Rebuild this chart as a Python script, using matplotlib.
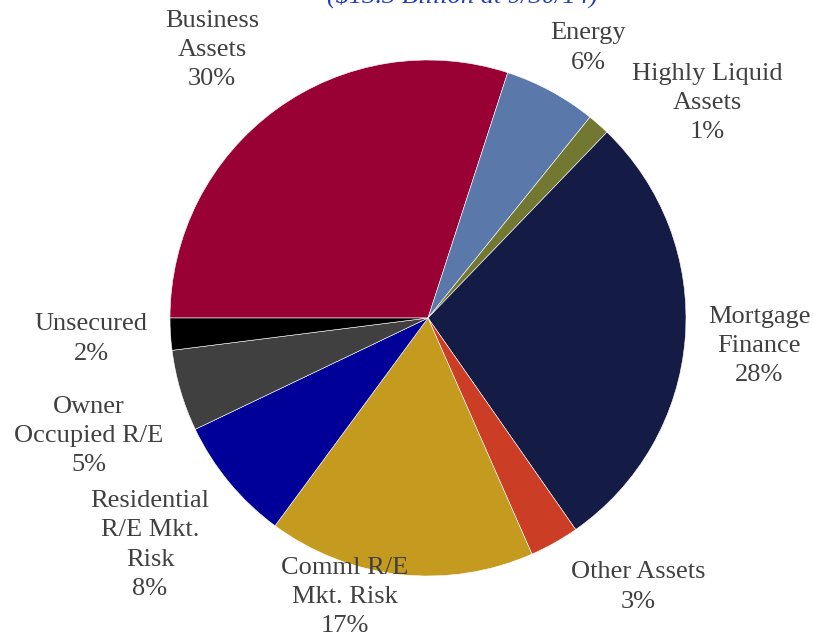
import matplotlib
matplotlib.use("Agg")
import matplotlib.pyplot as plt

categories = ["Business\nAssets", "Energy", "Highly Liquid\nAssets", "Mortgage\nFinance",
              "Other Assets", "Comml R/E\nMkt. Risk", "Residential\nR/E Mkt.\nRisk",
              "Owner\nOccupied R/E", "Unsecured"]
values = [30.0, 5.8, 1.4, 28.1, 3.1, 16.7, 7.8, 5.1, 2.0]
pct_labels = ["30%", "6%", "1%", "28%", "3%", "17%", "8%", "5%", "2%"]
colors = ["#990033", "#5B78AB", "#727831", "#141B45", "#CC3D25",
          "#C49A1F", "#000099", "#404040", "#000000"]

W, H = 813, 636
CX, CY, R = 428, 318, 258
fig = plt.figure(figsize=(W / 100, H / 100), dpi=100)
ax = fig.add_axes([(CX - R) / W, (H - CY - R) / H, 2 * R / W, 2 * R / H])
ax.pie(values, colors=colors, startangle=180, counterclock=False, radius=1.0,
       wedgeprops=dict(edgecolor="white", linewidth=0.4))
ax.set_xlim(-1, 1)
ax.set_ylim(-1, 1)
ax.set_aspect("equal")
ax.axis("off")

# label centres in pixel coordinates (layout only)
label_pos = [(212, 50), (588, 48), (707, 103), (759, 346), (638, 587),
             (345, 597), (150, 545), (89, 436), (91, 339)]
for cat, pct, (px, py) in zip(categories, pct_labels, label_pos):
    ax.text((px - CX) / R, (CY - py) / R, cat + "\n" + pct, ha="center", va="center",
            fontsize=19, family="Liberation Serif", color="#404040",
            linespacing=1.44, clip_on=False)

fig.text(462 / W, 1 - (-4) / H, "($13.3 Billion at 9/30/14)", ha="center", va="center",
         fontsize=19, family="Liberation Serif", style="italic", color="#1F3CBE")

fig.savefig("out.png", dpi=100)
